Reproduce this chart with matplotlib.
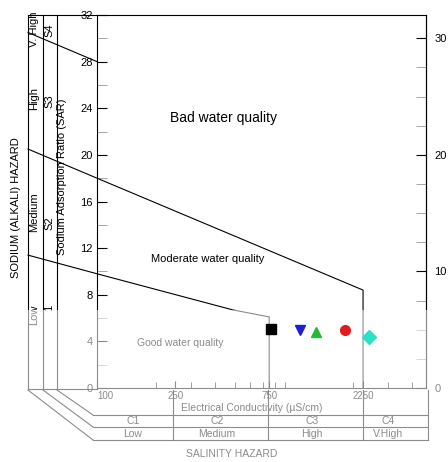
import matplotlib
matplotlib.use("Agg")
import matplotlib.pyplot as plt
from matplotlib.patches import Rectangle
from matplotlib.ticker import MultipleLocator, NullFormatter

plt.rcParams['font.family'] = ['Liberation Sans', 'DejaVu Sans']

# Salinity (EC, uS/cm) axis ticks and SAR ticks
ec_ticks = [100, 250, 750, 2250]
ec_labels = ["100", "250", "750", "2250"]
sar_ticks = [0, 4, 8, 12, 16, 20, 24, 28, 32]
right_ticks = [0, 10, 20, 30]

# Class boundary lines (EC, SAR)
s4_ec = [44.6, 100]
s4_sar = [30.5, 28.0]
s3_ec = [44.6, 100, 2250, 2250]
s3_sar = [20.5, 18.0, 8.4, 0]
s2_ec = [44.6, 100, 490, 750, 750]
s2_sar = [11.4, 9.8, 6.7, 6.1, 0]

# Water samples
sample_ec = [762, 1073, 1295, 1816, 2426]
sample_sar = [5.06, 4.98, 4.8, 4.98, 4.38]
sample_marker = ["s", "v", "^", "o", "D"]
sample_color = ["black", "#1f1fd0", "#22bb33", "#e01b1b", "#2de0c8"]

# Salinity hazard table
c_classes = ["C1", "C2", "C3", "C4"]
c_names = ["Low", "Medium", "High", "V.High"]

W, H = 448, 462
fig = plt.figure(figsize=(W / 100, H / 100), dpi=100)
ax = fig.add_axes([97 / W, 1 - 388 / H, (426 - 97) / W, (388 - 15) / H])


def fline(xs, ys, **kw):
    # line in pixel coords of the figure (frame decorations)
    kw.setdefault("color", "black")
    kw.setdefault("lw", 0.8)
    ax.plot([x / W for x in xs], [1 - y / H for y in ys],
            transform=fig.transFigure, clip_on=False, **kw)


def ftext(x, y, s, **kw):
    kw.setdefault("fontsize", 8)
    ax.text(x / W, 1 - y / H, s, transform=fig.transFigure,
            ha="center", va="center", **kw)


# boundary lines
ax.plot(s4_ec, s4_sar, color="black", lw=0.8, clip_on=False)
ax.plot(s3_ec, s3_sar, color="black", lw=0.8, clip_on=False)
ax.plot(s2_ec, s2_sar, color="black", lw=0.8, clip_on=False)

# samples
for e, s, m, c in zip(sample_ec, sample_sar, sample_marker, sample_color):
    ax.plot(e, s, marker=m, color=c, markersize=7, linestyle="none", zorder=5)

ax.set_xscale("log")
ax.set_xlim(100, 4700)
ax.set_ylim(0, 32)
ax.set_xticks(ec_ticks)
ax.set_xticklabels(ec_labels)
ax.xaxis.set_minor_formatter(NullFormatter())
ax.set_yticks(sar_ticks)
ax.yaxis.set_minor_locator(MultipleLocator(2))
ax.tick_params(axis="y", which="both", direction="in", length=7, labelsize=8, pad=3)
ax.tick_params(axis="y", which="minor", color="#999999")
ax.tick_params(axis="x", which="major", direction="in", length=5, labelsize=7, pad=2)
ax.tick_params(axis="x", which="minor", direction="in", length=4)
ax.get_xticklabels()[0].set_ha("left")
ax.get_xticklabels()[0].set_x(104)

sec = ax.secondary_yaxis("right")
sec.set_yticks(right_ticks)
sec.yaxis.set_minor_locator(MultipleLocator(2.5))
sec.tick_params(which="both", direction="in", length=7, labelsize=8, pad=6)
sec.tick_params(which="minor", color="#999999")

# left columns and frame extension
for x in [28, 43, 57]:
    fline([x, x], [15, 390])
fline([28, 97], [15, 15])
fline([28, 97], [389, 389])
fline([28, 93], [390, 440])
fline([43, 93], [390, 427])
fline([57, 93], [390, 415])

# salinity table
for y in [415, 427, 440]:
    fline([93, 428], [y, y])
for x in [173, 268, 363, 428]:
    fline([x, x], [390, 440])

# texts
ftext(223, 118, "Bad water quality", fontsize=10)
ftext(208, 259, "Moderate water quality", fontsize=8)
ftext(180, 343, "Good water quality", fontsize=7.5)
ftext(16, 208, "SODIUM (ALKALI) HAZARD", rotation=90)
ftext(62, 177, "Sodium Adsorption Ratio (SAR)", rotation=90)
ftext(34, 29, "V. High", rotation=90)
ftext(49, 30, "S4", rotation=90)
ftext(34, 99, "High", rotation=90)
ftext(49, 101, "S3", rotation=90)
ftext(34, 212, "Medium", rotation=90)
ftext(49, 223, "S2", rotation=90)
ftext(34, 315, "Low", rotation=90)
ftext(49, 308, "1", rotation=90)
ftext(252, 408, "Electrical Conductivity (\u00b5S/cm)", fontsize=7.5)
for cx, cl, nm in zip([133, 217, 312, 388], c_classes, c_names):
    ftext(cx, 421, cl, fontsize=7.5)
    ftext(cx, 434, nm, fontsize=7.5)
ftext(232, 454, "SALINITY HAZARD", fontsize=7.5)

# washed-out lower band of the scanned figure
ax.add_patch(Rectangle((17 / W, 0), (W - 17) / W, (H - 310) / H,
                       transform=fig.transFigure, facecolor="white",
                       edgecolor="none", alpha=0.55, zorder=3, clip_on=False))

ax.set_xlim(100, 4700)
ax.set_ylim(0, 32)

plt.savefig("out.png", dpi=100)
